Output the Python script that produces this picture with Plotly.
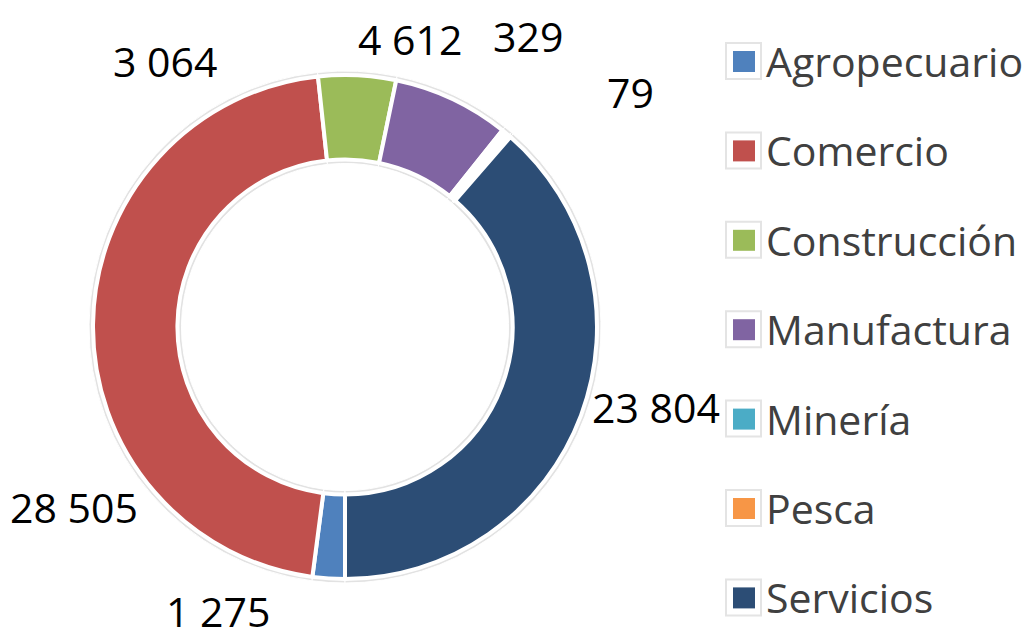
import plotly.graph_objects as go

W, H = 1031, 638
OFF = 8  # page body margin offset in the browser

categories = ["Agropecuario", "Comercio", "Construcción", "Manufactura", "Minería", "Pesca", "Servicios"]
values = [1275, 28505, 3064, 4612, 329, 79, 23804]
colors = ["#4F81BD", "#C0504D", "#9BBB59", "#8064A2", "#4BACC6", "#F79646", "#2C4D75"]

# label positions (pixels)
label_px = [(218, 611), (74, 507), (165, 61), (410, 39), (528, 36), (630, 92), (656, 407)]

FONT = "Open Sans"
FS = 41

def fmt(v):
    return f"{v:,}".replace(",", " ")

def px(x):
    return (x - OFF) / W

def py(y):
    return 1 - (y - OFF) / H

cx, cy, r = 345, 327, 252
hole = 0.665
# tiny slices appear as a white gap in the reference
pie_colors = [c if cat not in ("Minería", "Pesca") else "#FFFFFF" for c, cat in zip(colors, categories)]

fig = go.Figure()
# faint grey outline behind the ring
rb = r + 4
fig.add_trace(go.Pie(
    labels=categories,
    values=values,
    sort=False,
    direction="clockwise",
    rotation=180,
    hole=(hole * r - 4) / rb,
    marker=dict(colors=["#E2E2E2"] * len(values), line=dict(color="#FFFFFF", width=1)),
    textinfo="none",
    hoverinfo="skip",
    showlegend=False,
    domain=dict(x=[px(cx - rb), px(cx + rb)], y=[py(cy + rb), py(cy - rb)]),
))
fig.add_trace(go.Pie(
    labels=categories,
    values=values,
    sort=False,
    direction="clockwise",
    rotation=180,
    hole=hole,
    marker=dict(colors=pie_colors, line=dict(color="#FFFFFF", width=4)),
    textinfo="none",
    hoverinfo="label+value",
    showlegend=False,
    domain=dict(x=[px(cx - r), px(cx + r)], y=[py(cy + r), py(cy - r)]),
))

annotations = []
for v, (lx, ly) in zip(values, label_px):
    annotations.append(dict(
        x=px(lx), y=py(ly), xref="paper", yref="paper",
        text=fmt(v), showarrow=False, xanchor="center", yanchor="middle",
        font=dict(family=FONT, size=FS, color="#000000"),
    ))

shapes = []
y0, step = 61, 89.4
for i, (cat, col) in enumerate(zip(categories, colors)):
    yc = y0 + i * step
    shapes.append(dict(type="rect", xref="paper", yref="paper",
                       x0=px(726), x1=px(761), y0=py(yc + 18), y1=py(yc - 18),
                       line=dict(color="#E4E4E4", width=2), fillcolor="#FFFFFF"))
    shapes.append(dict(type="rect", xref="paper", yref="paper",
                       x0=px(733), x1=px(755), y0=py(yc + 11), y1=py(yc - 10),
                       line=dict(width=0), fillcolor=col))
    annotations.append(dict(
        x=px(764), y=py(yc), xref="paper", yref="paper",
        text=cat, showarrow=False, xanchor="left", yanchor="middle",
        font=dict(family=FONT, size=FS, color="#404040"),
    ))

fig.update_layout(
    width=W, height=H,
    margin=dict(l=0, r=0, t=0, b=0),
    paper_bgcolor="#FFFFFF", plot_bgcolor="#FFFFFF",
    annotations=annotations, shapes=shapes,
    showlegend=False,
)

fig.write_html("out.html")
